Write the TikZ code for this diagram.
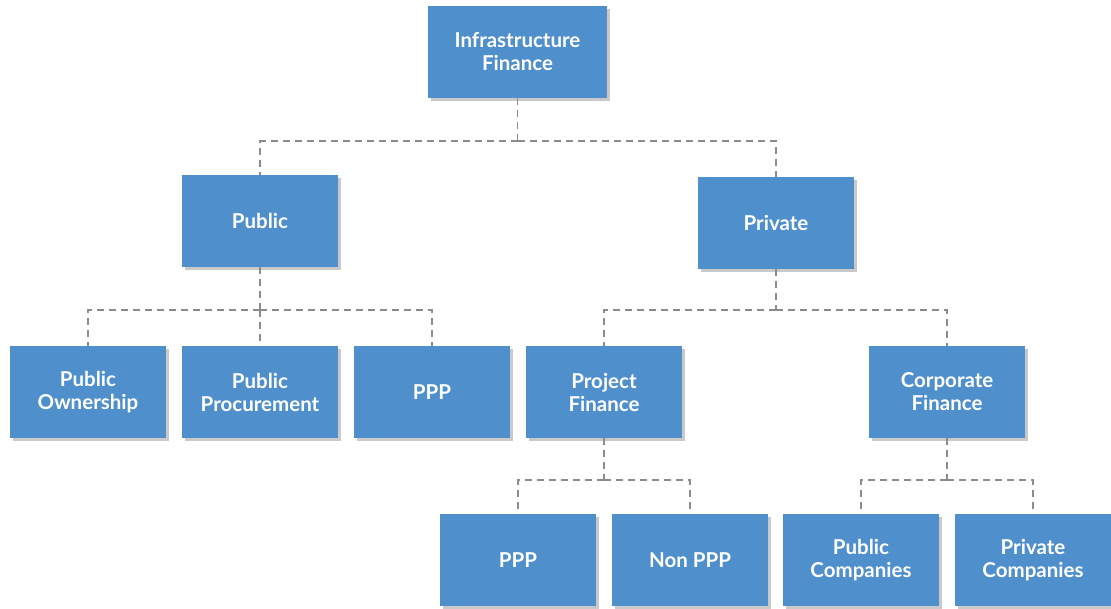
\documentclass[tikz,border=0pt]{standalone}
\usepackage{fontspec}
\setmainfont{Lato}
\usetikzlibrary{shadows,positioning}
\definecolor{boxblue}{RGB}{79,143,204}
\definecolor{linegray}{RGB}{140,140,140}
\begin{document}
\begin{tikzpicture}[x=1pt,y=-1pt,
  box/.style={fill=boxblue, draw=none, minimum width=156pt, minimum height=92pt,
    text=white, font=\bfseries\fontsize{20.5}{23}\selectfont, align=center, inner sep=0pt,
    drop shadow={shadow xshift=3pt, shadow yshift=-3pt, opacity=0.35, fill=black!60}},
  conn/.style={draw=linegray, line width=1.8pt, dash pattern=on 7pt off 5pt}]
\useasboundingbox (0,0) rectangle (1111,608);
\fill[white] (0,0) rectangle (1111,608);
% nodes
\node[box, minimum width=179pt] (infra) at (517.5,52) {Infrastructure\\Finance};
\node[box] (public) at (260,221) {Public};
\node[box] (private) at (776,223) {Private};
\node[box] (own) at (88,392) {Public\\Ownership};
\node[box] (proc) at (260,392) {Public\\Procurement};
\node[box] (ppp1) at (432,392) {PPP};
\node[box] (proj) at (604,392) {Project\\Finance};
\node[box] (corp) at (947,392) {Corporate\\Finance};
\node[box] (ppp2) at (518,560) {PPP};
\node[box] (nonppp) at (690,560) {Non PPP};
\node[box] (pubco) at (861,560) {Public\\Companies};
\node[box] (privco) at (1033,560) {Private\\Companies};
% connectors
\coordinate (j1) at (517.5,141);
\coordinate (j2) at (260,310);
\coordinate (j3) at (776,310);
\coordinate (j4) at (604,480);
\coordinate (j5) at (947,480);
\draw[conn] (infra.south) -- (j1);
\draw[conn] (j1) -| (public.north);
\draw[conn] (j1) -| (private.north);
\draw[conn] (public.south) -- (j2);
\draw[conn] (j2) -| (own.north);
\draw[conn] (j2) -- (proc.north);
\draw[conn] (j2) -| (ppp1.north);
\draw[conn] (private.south) -- (j3);
\draw[conn] (j3) -| (proj.north);
\draw[conn] (j3) -| (corp.north);
\draw[conn] (proj.south) -- (j4);
\draw[conn] (j4) -| (ppp2.north);
\draw[conn] (j4) -| (nonppp.north);
\draw[conn] (corp.south) -- (j5);
\draw[conn] (j5) -| (pubco.north);
\draw[conn] (j5) -| (privco.north);
\end{tikzpicture}
\end{document}
